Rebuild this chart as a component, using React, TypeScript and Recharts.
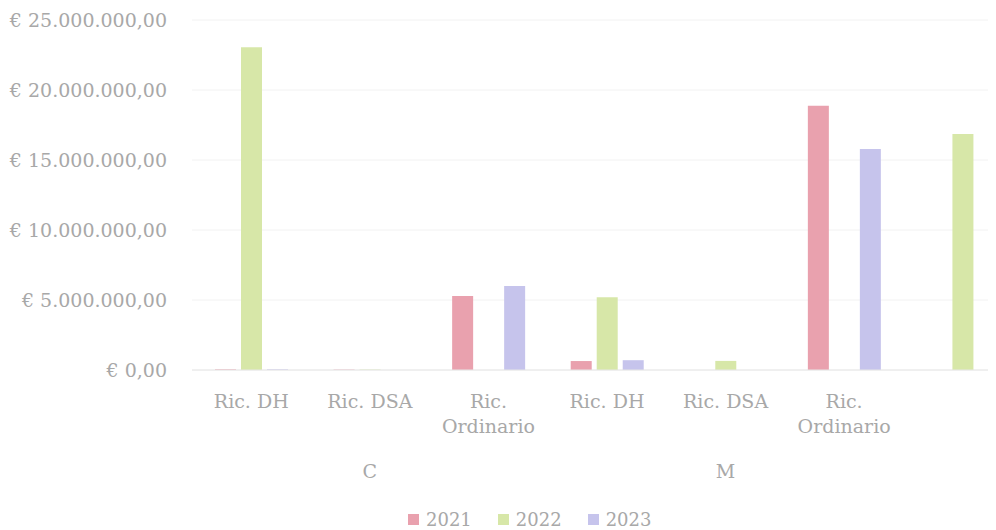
import React from 'react';
import { BarChart, Bar, XAxis, YAxis, CartesianGrid, Legend } from 'recharts';

const categories = ['Ric. DH', 'Ric. DSA', 'Ric. Ordinario', 'Ric. DH', 'Ric. DSA', 'Ric. Ordinario', ''];
const groups = ['C', 'C', 'C', 'M', 'M', 'M', ''];
const groupLabelIndex = [1, 4];
const values2021 = [50000, 30000, 5290000, 640000, 0, 18880000, 0];
const values2022 = [23050000, 30000, 0, 5200000, 650000, 0, 16860000];
const values2023 = [50000, 0, 6000000, 700000, 0, 15790000, 0];
const yTicks = [0, 5000000, 10000000, 15000000, 20000000, 25000000];
const seriesNames = ['2021', '2022', '2023'];
const colors = ['#e9a1ae', '#d7e7a8', '#c6c4ec'];

const data = categories.map((name, i) => ({
  name,
  group: groups[i],
  y2021: values2021[i],
  y2022: values2022[i],
  y2023: values2023[i],
}));

const FONT = '"DejaVu Serif", serif';
const TEXT = '#a8a8a8';

function fmtEuro(v: number): string {
  const int = Math.floor(v);
  const s = String(int).replace(/\B(?=(\d{3})+(?!\d))/g, '.');
  return '€ ' + s + ',00';
}

const XTick = (props: any) => {
  const { x, y, payload, index } = props;
  const label: string = payload.value || '';
  const lines = label.length > 8 ? [label.slice(0, label.indexOf(' ')), label.slice(label.indexOf(' ') + 1)] : [label];
  const i = typeof index === 'number' ? index : payload.index;
  return (
    <g>
      {lines.map((l, k) => (
        <text key={k} x={x} y={y + 38 + k * 25} textAnchor="middle" fill={TEXT} fontFamily={FONT} fontSize={19}>
          {l}
        </text>
      ))}
      {groupLabelIndex.includes(i) && (
        <text x={x} y={y + 108} textAnchor="middle" fill={TEXT} fontFamily={FONT} fontSize={19}>
          {groups[i]}
        </text>
      )}
    </g>
  );
};

const LegendContent = () => (
  <div style={{ display: 'flex', alignItems: 'center', height: 20, fontFamily: FONT, fontSize: 18, color: TEXT, whiteSpace: 'nowrap' }}>
    {seriesNames.map((n, i) => (
      <div key={n} style={{ display: 'flex', alignItems: 'center', marginRight: i < 2 ? 26 : 0 }}>
        <span style={{ display: 'inline-block', width: 11, height: 11, background: colors[i], marginRight: 7 }} />
        <span>{n}</span>
      </div>
    ))}
  </div>
);

export default function App() {
  return (
    <div style={{ width: 988, height: 522, overflow: 'hidden', position: 'relative' }}>
      <BarChart
        width={1014}
        height={522}
        data={data}
        margin={{ top: 12, right: 0, bottom: 0, left: 0 }}
        barSize={21}
        barGap={5}
      >
        <CartesianGrid vertical={false} stroke="#f2f2f2" />
        <XAxis
          dataKey="name"
          height={160}
          tickLine={false}
          tickSize={0}
          tickMargin={0}
          axisLine={{ stroke: '#e6e6e6' }}
          interval={0}
          tick={<XTick />}
        />
        <YAxis
          width={184}
          domain={[0, 25000000]}
          ticks={yTicks}
          tickFormatter={fmtEuro}
          axisLine={false}
          tickLine={false}
          tickSize={0}
          tickMargin={25}
          tick={{ fill: TEXT, fontFamily: FONT, fontSize: 19 }}
        />
        <Legend
          layout="horizontal"
          verticalAlign="middle"
          align="center"
          content={<LegendContent />}
          wrapperStyle={{ top: 501, left: 400, width: 'auto', height: 20 }}
        />
        <Bar dataKey="y2021" name="2021" fill={colors[0]} isAnimationActive={false} />
        <Bar dataKey="y2022" name="2022" fill={colors[1]} isAnimationActive={false} />
        <Bar dataKey="y2023" name="2023" fill={colors[2]} isAnimationActive={false} />
      </BarChart>
    </div>
  );
}
